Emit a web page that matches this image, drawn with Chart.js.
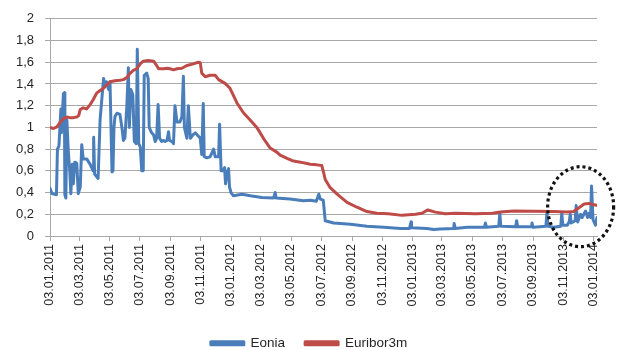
<!DOCTYPE html>
<html>
<head>
<meta charset="utf-8">
<script src="https://cdn.jsdelivr.net/npm/chart.js@4.4.1/dist/chart.umd.min.js"></script>
<style>
  html, body { margin: 0; padding: 0; background: #ffffff; }
  #wrap { width: 622px; height: 350px; position: relative; }
</style>
</head>
<body>
<div id="wrap"><canvas id="chart" width="622" height="350"></canvas></div>
<script>
// Axis tick labels (x: every two months, y: rate in %)
const xTickLabels = [
  '03.01.2011', '03.03.2011', '03.05.2011', '03.07.2011', '03.09.2011', '03.11.2011',
  '03.01.2012', '03.03.2012', '03.05.2012', '03.07.2012', '03.09.2012', '03.11.2012',
  '03.01.2013', '03.03.2013', '03.05.2013', '03.07.2013', '03.09.2013', '03.11.2013',
  '03.01.2014'
];
const yTickValues = [0, 0.2, 0.4, 0.6, 0.8, 1, 1.2, 1.4, 1.6, 1.8, 2];

// Eonia overnight rate, %
const eonia = [
  ['2011-01-03', 0.44], ['2011-01-07', 0.39], ['2011-01-16', 0.38], ['2011-01-18', 0.80],
  ['2011-01-21', 0.83], ['2011-01-25', 1.17], ['2011-01-26', 0.95], ['2011-01-30', 1.31],
  ['2011-02-01', 1.32], ['2011-02-02', 0.38], ['2011-02-04', 0.35], ['2011-02-06', 1.07],
  ['2011-02-09', 0.77], ['2011-02-12', 0.59], ['2011-02-14', 0.39], ['2011-02-17', 0.66],
  ['2011-02-19', 0.48], ['2011-02-22', 0.68], ['2011-02-26', 0.67], ['2011-03-01', 0.39],
  ['2011-03-05', 0.45], ['2011-03-08', 0.84], ['2011-03-11', 0.71], ['2011-03-18', 0.71],
  ['2011-03-25', 0.66], ['2011-03-31', 0.60], ['2011-04-01', 0.91], ['2011-04-03', 0.57],
  ['2011-04-10', 0.53], ['2011-04-14', 1.07], ['2011-04-21', 1.45], ['2011-04-24', 1.38],
  ['2011-04-27', 1.42], ['2011-05-01', 1.35], ['2011-05-04', 1.42], ['2011-05-08', 0.59],
  ['2011-05-10', 0.60], ['2011-05-12', 1.00], ['2011-05-14', 1.10], ['2011-05-18', 1.13],
  ['2011-05-24', 1.12], ['2011-05-28', 1.00], ['2011-05-31', 0.88], ['2011-06-03', 0.90],
  ['2011-06-07', 1.20], ['2011-06-10', 1.55], ['2011-06-12', 1.00], ['2011-06-15', 1.35],
  ['2011-06-19', 1.30], ['2011-06-22', 0.87], ['2011-06-26', 0.85], ['2011-06-28', 1.72],
  ['2011-07-01', 0.85], ['2011-07-04', 0.82], ['2011-07-07', 0.60], ['2011-07-10', 0.60],
  ['2011-07-12', 1.48], ['2011-07-17', 1.50], ['2011-07-20', 1.45], ['2011-07-22', 1.00],
  ['2011-07-27', 0.95], ['2011-07-31', 0.93], ['2011-08-03', 0.87], ['2011-08-06', 0.90],
  ['2011-08-09', 1.21], ['2011-08-12', 0.90], ['2011-08-16', 0.87], ['2011-08-20', 0.88],
  ['2011-08-23', 0.87], ['2011-08-27', 0.88], ['2011-08-30', 0.96], ['2011-09-01', 0.88],
  ['2011-09-06', 0.87], ['2011-09-09', 0.85], ['2011-09-12', 1.20], ['2011-09-16', 1.05],
  ['2011-09-22', 1.05], ['2011-09-26', 1.10], ['2011-09-29', 1.47], ['2011-10-01', 1.00],
  ['2011-10-06', 0.90], ['2011-10-09', 1.20], ['2011-10-13', 0.90], ['2011-10-18', 0.93],
  ['2011-10-23', 0.95], ['2011-10-29', 0.92], ['2011-11-02', 0.90], ['2011-11-05', 0.75],
  ['2011-11-08', 1.22], ['2011-11-10', 0.73], ['2011-11-15', 0.72], ['2011-11-22', 0.73],
  ['2011-11-29', 0.80], ['2011-12-02', 0.73], ['2011-12-09', 0.73], ['2011-12-11', 1.03],
  ['2011-12-14', 0.60], ['2011-12-18', 0.60], ['2011-12-21', 0.63], ['2011-12-23', 0.48],
  ['2011-12-26', 0.58], ['2011-12-29', 0.62], ['2011-12-31', 0.45], ['2012-01-03', 0.40],
  ['2012-01-08', 0.37], ['2012-01-25', 0.385], ['2012-02-11', 0.37], ['2012-03-05', 0.355],
  ['2012-03-29', 0.35], ['2012-04-01', 0.40], ['2012-04-03', 0.35], ['2012-05-01', 0.34],
  ['2012-05-28', 0.325], ['2012-06-11', 0.33], ['2012-06-23', 0.32], ['2012-06-28', 0.385],
  ['2012-07-01', 0.34], ['2012-07-07', 0.33], ['2012-07-11', 0.14], ['2012-07-28', 0.12],
  ['2012-08-31', 0.108], ['2012-10-03', 0.09], ['2012-11-06', 0.08], ['2012-12-10', 0.07],
  ['2012-12-28', 0.07], ['2012-12-31', 0.13], ['2013-01-01', 0.075], ['2013-02-01', 0.07],
  ['2013-02-15', 0.06], ['2013-02-28', 0.065], ['2013-03-27', 0.07], ['2013-03-28', 0.115],
  ['2013-03-30', 0.07], ['2013-04-23', 0.08], ['2013-05-28', 0.08], ['2013-05-30', 0.12],
  ['2013-06-01', 0.08], ['2013-06-26', 0.09], ['2013-06-28', 0.21], ['2013-06-30', 0.09],
  ['2013-07-30', 0.085], ['2013-08-01', 0.14], ['2013-08-03', 0.085], ['2013-08-31', 0.085],
  ['2013-09-01', 0.12], ['2013-09-03', 0.08], ['2013-09-29', 0.09], ['2013-10-01', 0.21],
  ['2013-10-03', 0.09], ['2013-10-15', 0.08], ['2013-10-29', 0.09], ['2013-10-31', 0.21],
  ['2013-11-02', 0.10], ['2013-11-11', 0.10], ['2013-11-15', 0.13], ['2013-11-17', 0.20],
  ['2013-11-19', 0.12], ['2013-11-27', 0.14], ['2013-11-29', 0.28], ['2013-12-02', 0.13],
  ['2013-12-08', 0.20], ['2013-12-11', 0.17], ['2013-12-18', 0.23], ['2013-12-22', 0.17],
  ['2013-12-25', 0.21], ['2013-12-28', 0.17], ['2013-12-30', 0.46], ['2014-01-02', 0.15],
  ['2014-01-07', 0.10], ['2014-01-10', 0.17]
];

// Euribor 3-month rate, %
const euribor3m = [
  ['2011-01-03', 1.00], ['2011-01-10', 0.99], ['2011-01-17', 1.005], ['2011-01-23', 1.045],
  ['2011-01-30', 1.08], ['2011-02-06', 1.095], ['2011-02-12', 1.09], ['2011-02-19', 1.09],
  ['2011-02-26', 1.095], ['2011-03-02', 1.11], ['2011-03-05', 1.165], ['2011-03-11', 1.18],
  ['2011-03-18', 1.17], ['2011-03-25', 1.21], ['2011-03-31', 1.255], ['2011-04-07', 1.315],
  ['2011-04-14', 1.34], ['2011-04-21', 1.36], ['2011-04-27', 1.39], ['2011-05-04', 1.42],
  ['2011-05-14', 1.43], ['2011-05-24', 1.435], ['2011-05-31', 1.44], ['2011-06-07', 1.46],
  ['2011-06-13', 1.495], ['2011-06-20', 1.525], ['2011-06-27', 1.54], ['2011-07-04', 1.585],
  ['2011-07-10', 1.61], ['2011-07-20', 1.615], ['2011-07-31', 1.61], ['2011-08-06', 1.57],
  ['2011-08-10', 1.54], ['2011-08-20', 1.54], ['2011-08-27', 1.545], ['2011-09-02', 1.54],
  ['2011-09-09', 1.53], ['2011-09-16', 1.54], ['2011-09-26', 1.545], ['2011-10-06', 1.57],
  ['2011-10-19', 1.585], ['2011-10-29', 1.60], ['2011-11-02', 1.595], ['2011-11-05', 1.50],
  ['2011-11-12', 1.466], ['2011-11-22', 1.48], ['2011-12-02', 1.48], ['2011-12-09', 1.44],
  ['2011-12-22', 1.405], ['2012-01-01', 1.36], ['2012-01-15', 1.225], ['2012-01-28', 1.135],
  ['2012-02-11', 1.065], ['2012-02-24', 1.00], ['2012-03-09', 0.895], ['2012-03-22', 0.81],
  ['2012-04-05', 0.77], ['2012-04-11', 0.745], ['2012-04-25', 0.715], ['2012-05-08', 0.69],
  ['2012-05-22', 0.68], ['2012-06-11', 0.66], ['2012-06-24', 0.655], ['2012-07-04', 0.65],
  ['2012-07-08', 0.58], ['2012-07-11', 0.52], ['2012-07-21', 0.445], ['2012-08-04', 0.385],
  ['2012-08-24', 0.31], ['2012-09-13', 0.265], ['2012-10-03', 0.225], ['2012-10-23', 0.21],
  ['2012-11-15', 0.205], ['2012-12-13', 0.19], ['2013-01-09', 0.20], ['2013-01-22', 0.21],
  ['2013-02-03', 0.24], ['2013-02-18', 0.22], ['2013-03-10', 0.205], ['2013-03-31', 0.21],
  ['2013-05-10', 0.205], ['2013-06-13', 0.21], ['2013-06-29', 0.22], ['2013-07-26', 0.23],
  ['2013-09-05', 0.228], ['2013-10-15', 0.225], ['2013-11-11', 0.22], ['2013-11-24', 0.225],
  ['2013-12-04', 0.258], ['2013-12-15', 0.295], ['2013-12-25', 0.30], ['2014-01-01', 0.29],
  ['2014-01-10', 0.282]
];

// Dotted ring drawn around the end-of-2013 movement
const ringCenter = { date: '2013-12-08', value: 0.27 };

const DAY_MS = 86400000;
const ORIGIN = Date.UTC(2011, 0, 3);
function dayOfIso(s) {
  const [y, m, d] = s.split('-').map(Number);
  return Math.round((Date.UTC(y, m - 1, d) - ORIGIN) / DAY_MS);
}
function dayOfLabel(s) {
  const [d, m, y] = s.split('.').map(Number);
  return Math.round((Date.UTC(y, m - 1, d) - ORIGIN) / DAY_MS);
}
const toPoints = (rows) => rows.map(([date, v]) => ({ x: dayOfIso(date), y: v }));
const fmtComma = (v) => String(Math.round(v * 10) / 10).replace('.', ',');

const FONT = '"Liberation Sans", Arial, sans-serif';
const GRID = '#a8a8a8';
const TEXT = '#262626';
const PAD_BOTTOM = -10;
const PLOT_BOTTOM = 236;

const ringPlugin = {
  id: 'ring',
  afterDraw(chart) {
    const { ctx, scales: { x, y } } = chart;
    const cx = x.getPixelForValue(dayOfIso(ringCenter.date));
    const cy = y.getPixelForValue(ringCenter.value);
    ctx.save();
    ctx.beginPath();
    ctx.ellipse(cx, cy, 33, 40, 0, 0, Math.PI * 2);
    ctx.setLineDash([3, 3]);
    ctx.lineWidth = 3.2;
    ctx.strokeStyle = '#111111';
    ctx.stroke();
    ctx.restore();
  }
};

const lastDay = dayOfIso(eonia[eonia.length - 1][0]);

new Chart(document.getElementById('chart'), {
  type: 'line',
  data: {
    datasets: [
      {
        label: 'Eonia',
        data: toPoints(eonia),
        borderColor: '#4a7ebb',
        backgroundColor: '#4a7ebb',
        borderWidth: 3,
        pointRadius: 0,
        tension: 0,
        borderJoinStyle: 'round',
        borderCapStyle: 'round',
        order: 2
      },
      {
        label: 'Euribor3m',
        data: toPoints(euribor3m),
        borderColor: '#be4b48',
        backgroundColor: '#be4b48',
        borderWidth: 3,
        pointRadius: 0,
        tension: 0,
        borderJoinStyle: 'round',
        borderCapStyle: 'round',
        order: 1
      }
    ]
  },
  options: {
    responsive: false,
    animation: false,
    devicePixelRatio: 1,
    layout: { padding: { left: 0, right: 4, top: 14, bottom: PAD_BOTTOM } },
    plugins: {
      tooltip: { enabled: false },
      legend: {
        position: 'bottom',
        labels: {
          sort: (a, b) => a.datasetIndex - b.datasetIndex,
          boxWidth: 33,
          boxHeight: 3,
          padding: 20,
          color: TEXT,
          font: { family: FONT, size: 13.5 }
        }
      }
    },
    scales: {
      x: {
        type: 'linear',
        min: 0,
        max: lastDay,
        afterBuildTicks: (scale) => {
          scale.ticks = xTickLabels.map((l) => ({ value: dayOfLabel(l) }));
        },
        afterFit: (scale) => {
          const legendH = scale.chart.legend ? scale.chart.legend.height : 0;
          scale.height = 350 - PAD_BOTTOM - PLOT_BOTTOM - legendH;
        },
        ticks: {
          autoSkip: false,
          maxRotation: 90,
          minRotation: 90,
          padding: 3,
          color: TEXT,
          font: { family: FONT, size: 12.5 },
          callback: (value, index) => xTickLabels[index]
        },
        grid: { drawOnChartArea: false, drawTicks: true, tickLength: 5, color: GRID },
        border: { display: true, color: GRID, width: 1 }
      },
      y: {
        min: 0,
        max: 2,
        afterBuildTicks: (scale) => {
          scale.ticks = yTickValues.map((v) => ({ value: v }));
        },
        afterFit: (scale) => { scale.width = 50; },
        ticks: {
          padding: 11,
          color: TEXT,
          font: { family: FONT, size: 13 },
          callback: (value) => fmtComma(value)
        },
        grid: { color: GRID, tickLength: 5, drawTicks: true },
        border: { display: true, color: GRID, width: 1 }
      },
      // empty right-hand margin so the plot ends where the legend stays centred
      yRight: {
        position: 'right',
        display: true,
        min: 0,
        max: 2,
        afterFit: (scale) => { scale.width = 21; },
        ticks: { display: false },
        grid: { display: false, drawTicks: false },
        border: { display: false }
      }
    }
  },
  plugins: [ringPlugin]
});
</script>
</body>
</html>
